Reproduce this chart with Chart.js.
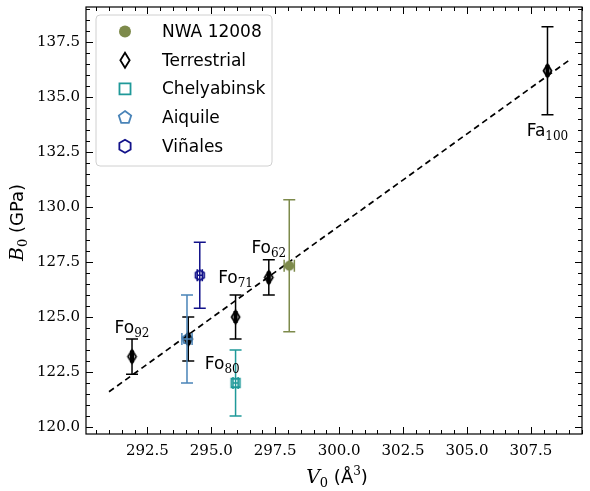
<!DOCTYPE html>
<html><head><meta charset="utf-8">
<script src="https://cdn.jsdelivr.net/npm/chart.js@4/dist/chart.umd.min.js"></script>
<style>html,body{margin:0;padding:0;background:#fff;overflow:hidden}#wrap{position:relative;width:590px;height:491px}</style>
</head><body><div id="wrap"><canvas id="c"></canvas></div>
<script>
// ---- data ----
const xTicks=[292.5,295.0,297.5,300.0,302.5,305.0,307.5];
const yTicks=[120.0,122.5,125.0,127.5,130.0,132.5,135.0,137.5];
const nwaV=[298.05], nwaB=[127.33], nwaVerr=[0.2], nwaBerr=[3.0];
const terrBase=['Fo','Fo','Fo','Fo','Fa'];
const terrSub=['92','80','71','62','100'];
const terrV=[291.9,294.1,295.95,297.25,308.15];
const terrB=[123.2,124.0,125.0,126.8,136.2];
const terrVerr=[0.05,0.05,0.05,0.05,0.05];
const terrBerr=[0.8,1.0,1.0,0.8,2.0];
const chelV=[295.95], chelB=[122.0], chelVerr=[0.1], chelBerr=[1.5];
const aiqV=[294.05], aiqB=[124.0], aiqVerr=[0.2], aiqBerr=[2.0];
const vinV=[294.55], vinB=[126.9], vinVerr=[0.1], vinBerr=[1.5];
const fitV=[291.0,309.0], fitB=[121.6,136.68];
const seriesNames=['NWA 12008','Terrestrial','Chelyabinsk','Aiquile','Viñales'];

// ---- styles ----
const C_NWA='#7d8a4b', C_TER='#000000', C_CHE='#1f9999', C_AIQ='#4a84b8', C_VIN='#12128a';
const labelOffsets=[[0,-30],[34,24],[0,-40],[0,-30],[0,59]];

function shapePath(ctx,shape,x,y,s){
  ctx.beginPath();
  if(shape==='circle'){ctx.arc(x,y,s,0,Math.PI*2);}
  else if(shape==='diamond'){ctx.moveTo(x,y-s);ctx.lineTo(x+0.62*s,y);ctx.lineTo(x,y+s);ctx.lineTo(x-0.62*s,y);ctx.closePath();}
  else if(shape==='square'){const h=s*0.85;ctx.rect(x-h,y-h,2*h,2*h);}
  else {const n=shape==='pentagon'?5:6;for(let i=0;i<n;i++){const a=-Math.PI/2+i*2*Math.PI/n;const px=x+s*Math.cos(a),py=y+s*Math.sin(a);if(i===0)ctx.moveTo(px,py);else ctx.lineTo(px,py);}ctx.closePath();}
}
function drawShape(ctx,shape,x,y,s,stroke,fill,lw){
  shapePath(ctx,shape,x,y,s);
  if(fill){ctx.fillStyle=fill;ctx.fill();}
  ctx.lineWidth=lw;ctx.strokeStyle=stroke;ctx.stroke();
}
function makeMarker(shape,s,stroke,fill,lw){
  const cv=document.createElement('canvas');const d=Math.ceil(2*s+2*lw+2);cv.width=d;cv.height=d;
  drawShape(cv.getContext('2d'),shape,d/2,d/2,s,stroke,fill,lw);return cv;
}
const pts=(xs,ys)=>xs.map((v,i)=>({x:v,y:ys[i]}));

const groups=[
 {v:nwaV,b:nwaB,ve:nwaVerr,be:nwaBerr,c:C_NWA,shape:'circle',fill:C_NWA},
 {v:terrV,b:terrB,ve:terrVerr,be:terrBerr,c:C_TER,shape:'diamond',fill:null},
 {v:chelV,b:chelB,ve:chelVerr,be:chelBerr,c:C_CHE,shape:'square',fill:null},
 {v:aiqV,b:aiqB,ve:aiqVerr,be:aiqBerr,c:C_AIQ,shape:'pentagon',fill:null},
 {v:vinV,b:vinB,ve:vinVerr,be:vinBerr,c:C_VIN,shape:'hexagon',fill:null}
];
const plotSize={circle:5,diamond:6.5,square:5,pentagon:5,hexagon:5};
const legSize={circle:6,diamond:7.5,square:6.5,pentagon:6.5,hexagon:6.5};

function drawRich(ctx,parts,x,y,align){
  let w=0;parts.forEach(p=>{ctx.font=p.font;w+=ctx.measureText(p.t).width;});
  let cx=align==='center'?x-w/2:(align==='right'?x-w:x);
  ctx.textBaseline='alphabetic';ctx.textAlign='left';
  parts.forEach(p=>{ctx.font=p.font;ctx.fillText(p.t,cx,y+(p.dy||0));cx+=ctx.measureText(p.t).width;});
}

const decor={
 id:'decor',
 afterDatasetsDraw(chart){
  const ctx=chart.ctx,xs=chart.scales.x,ys=chart.scales.y;
  ctx.save();
  groups.forEach(g=>{
   ctx.strokeStyle=g.c;ctx.lineWidth=1.5;
   g.v.forEach((v,i)=>{
    const px=xs.getPixelForValue(v),py=ys.getPixelForValue(g.b[i]);
    const y1=ys.getPixelForValue(g.b[i]-g.be[i]),y2=ys.getPixelForValue(g.b[i]+g.be[i]);
    const x1=xs.getPixelForValue(v-g.ve[i]),x2=xs.getPixelForValue(v+g.ve[i]);
    const cap=6;
    ctx.beginPath();
    ctx.moveTo(px,y1);ctx.lineTo(px,y2);
    ctx.moveTo(px-cap,y1);ctx.lineTo(px+cap,y1);
    ctx.moveTo(px-cap,y2);ctx.lineTo(px+cap,y2);
    ctx.moveTo(x1,py);ctx.lineTo(x2,py);
    ctx.moveTo(x1,py-cap);ctx.lineTo(x1,py+cap);
    ctx.moveTo(x2,py-cap);ctx.lineTo(x2,py+cap);
    ctx.stroke();
   });
  });
  ctx.fillStyle='#000';
  terrV.forEach((v,i)=>{
   const px=xs.getPixelForValue(v)+labelOffsets[i][0],py=ys.getPixelForValue(terrB[i])+labelOffsets[i][1];
   drawRich(ctx,[{t:terrBase[i],font:'17px "DejaVu Sans"'},{t:terrSub[i],font:'12px "DejaVu Serif"',dy:4}],px,py+6,'center');
  });
  ctx.restore();
 },
 afterDraw(chart){
  const ctx=chart.ctx,a=chart.chartArea,xs=chart.scales.x,ys=chart.scales.y;
  ctx.save();
  ctx.strokeStyle='#000';ctx.lineWidth=1.2;
  ctx.strokeRect(a.left,a.top,a.right-a.left,a.bottom-a.top);
  ctx.lineWidth=1;
  ctx.beginPath();
  const major=7,minor=4;
  for(let v=Math.ceil(xs.min*2)/2;v<=xs.max+1e-9;v+=0.5){
   const px=Math.round(xs.getPixelForValue(v))+0.5;const isM=xTicks.some(t=>Math.abs(t-v)<1e-6);const L=isM?major:minor;
   ctx.moveTo(px,a.bottom);ctx.lineTo(px,a.bottom-L);ctx.moveTo(px,a.top);ctx.lineTo(px,a.top+L);
  }
  for(let v=Math.ceil(ys.min*2)/2;v<=ys.max+1e-9;v+=0.5){
   const py=Math.round(ys.getPixelForValue(v))+0.5;const isM=yTicks.some(t=>Math.abs(t-v)<1e-6);const L=isM?major:minor;
   ctx.moveTo(a.left,py);ctx.lineTo(a.left+L,py);ctx.moveTo(a.right,py);ctx.lineTo(a.right-L,py);
  }
  ctx.stroke();
  ctx.fillStyle='#000';
  drawRich(ctx,[{t:'V',font:'italic 19px "DejaVu Serif"'},{t:'0',font:'13px "DejaVu Serif"',dy:4},{t:' (Å',font:'18px "DejaVu Sans"'},{t:'3',font:'12px "DejaVu Serif"',dy:-8},{t:')',font:'18px "DejaVu Sans"'}],(a.left+a.right)/2+3,483,'center');
  ctx.translate(23,(a.top+a.bottom)/2+2);ctx.rotate(-Math.PI/2);
  drawRich(ctx,[{t:'B',font:'italic 19px "DejaVu Serif"'},{t:'0',font:'13px "DejaVu Serif"',dy:4},{t:' (GPa)',font:'18px "DejaVu Sans"'}],0,0,'center');
  ctx.setTransform(1,0,0,1,0,0);
  const lx=96,ly=15,lw=176,lh=151,r=4;
  ctx.beginPath();ctx.moveTo(lx+r,ly);ctx.arcTo(lx+lw,ly,lx+lw,ly+lh,r);ctx.arcTo(lx+lw,ly+lh,lx,ly+lh,r);ctx.arcTo(lx,ly+lh,lx,ly,r);ctx.arcTo(lx,ly,lx+lw,ly,r);ctx.closePath();
  ctx.fillStyle='rgba(255,255,255,0.85)';ctx.fill();ctx.strokeStyle='#d0d0d0';ctx.lineWidth=1;ctx.stroke();
  groups.forEach((g,i)=>{
   const yy=31.5+i*28.7;
   drawShape(ctx,g.shape,125,yy,legSize[g.shape],g.c,g.fill||'#fff',g.shape==='circle'?0.01:1.8);
   ctx.fillStyle='#000';ctx.font='17px "DejaVu Sans"';ctx.textAlign='left';ctx.textBaseline='middle';
   ctx.fillText(seriesNames[i],162,yy+1);
  });
  ctx.restore();
 }
};

const datasets=[
 {label:'fit',data:pts(fitV,fitB),showLine:true,borderColor:'#000',borderWidth:1.7,borderDash:[6,4],pointRadius:0,fill:false,order:10}
];
groups.forEach((g,i)=>{
 datasets.push({label:seriesNames[i],data:pts(g.v,g.b),pointStyle:makeMarker(g.shape,plotSize[g.shape],g.c,g.fill,g.shape==='circle'?0.01:1.8),pointRadius:6,showLine:false,order:i});
});

const noPad=s=>{s.paddingTop=0;s.paddingBottom=0;s.paddingLeft=0;s.paddingRight=0;};
new Chart(document.getElementById('c'),{
 type:'scatter',
 data:{datasets},
 options:{
  responsive:true,maintainAspectRatio:false,animation:false,
  layout:{padding:{top:5,right:8,left:0,bottom:0}},
  plugins:{legend:{display:false},tooltip:{enabled:false}},
  scales:{
   x:{type:'linear',min:290.1,max:309.5,
      afterBuildTicks:s=>{s.ticks=xTicks.map(v=>({value:v}));},
      afterFit:s=>{s.height=57;noPad(s);},
      grid:{display:false,drawTicks:false},border:{display:false},
      ticks:{padding:8,color:'#000',font:{family:'DejaVu Serif',size:15},callback:v=>v.toFixed(1),maxRotation:0,autoSkip:false}},
   y:{type:'linear',min:119.68,max:139.1,
      afterBuildTicks:s=>{s.ticks=yTicks.map(v=>({value:v}));},
      afterFit:s=>{s.width=86;noPad(s);},
      grid:{display:false,drawTicks:false},border:{display:false},
      ticks:{padding:6,color:'#000',font:{family:'DejaVu Serif',size:15},callback:v=>v.toFixed(1),autoSkip:false}}
  }
 },
 plugins:[decor]
});
</script></body></html>
